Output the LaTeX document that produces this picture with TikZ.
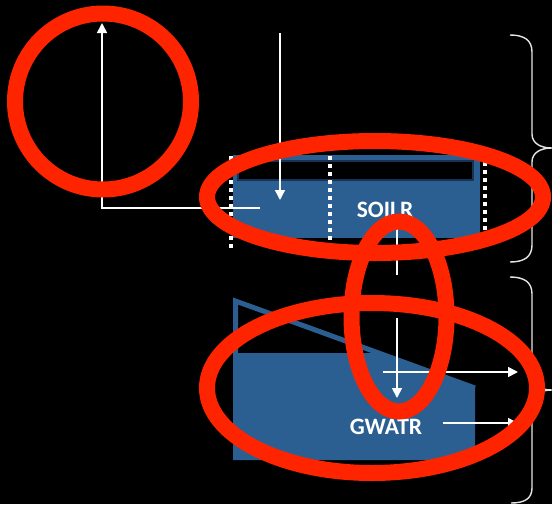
\documentclass[tikz,border=0pt]{standalone}
\usepackage{fontspec}
\setmainfont{Carlito}
\usetikzlibrary{arrows.meta}
\definecolor{layerblue}{RGB}{44,95,145}
\definecolor{layeredge}{RGB}{24,52,84}
\definecolor{markred}{RGB}{255,36,0}
\begin{document}
\begin{tikzpicture}[x=1pt,y=-1pt,
  flow/.style={draw=white,line width=1.6pt,-{Triangle[width=10pt,length=10pt]}},
  plainflow/.style={draw=white,line width=1.6pt},
  boundary/.style={draw=white,line width=4pt,dash pattern=on 4pt off 4pt},
  bracket/.style={draw=white!90!black,line width=1.4pt},
  storelabel/.style={text=white,font=\fontsize{23.5}{28}\selectfont\bfseries,inner sep=0pt},
  markring/.style={draw=markred,line width=16pt}
]
% canvas
\fill[black] (0,0) rectangle (552,504);
\useasboundingbox (0,0) rectangle (552,504);

% soil store
\fill[layerblue] (233,155) rectangle (480,238);
\filldraw[fill=black,draw=layeredge,line width=1.2pt] (238,161) rectangle (473,180);

% dotted column boundaries
\coordinate (bA1) at (231,156); \coordinate (bA2) at (231,250);
\coordinate (bB1) at (330,156); \coordinate (bB2) at (330,241);
\coordinate (bC1) at (485,162); \coordinate (bC2) at (485,234);
\draw[boundary] (bA1) -- (bA2);
\draw[boundary] (bB1) -- (bB2);
\draw[boundary] (bC1) -- (bC2);

% groundwater store
\fill[layerblue] (233,353) -- (377,353) -- (475,388) -- (475,460) -- (233,460) -- cycle;
\draw[layerblue,line width=5pt] (235.5,353) -- (235.5,301) -- (475,388);

% labels
\node[storelabel] (soil) at (385,210) {SOILR};
\node[storelabel] (gw) at (386,427) {GWATR};

% fluxes
\coordinate (evapStart) at (260,208);
\coordinate (evapCorner) at (102,208);
\coordinate (evapTop) at (102,23);
\draw[flow] (evapStart) -- (evapCorner) -- (evapTop);

\coordinate (rainTop) at (280,33);
\coordinate (rainEnd) at (280,200);
\draw[flow] (rainTop) -- (rainEnd);

\coordinate (percTop) at (397,225);
\coordinate (percEnd) at (397,275);
\draw[plainflow] (percTop) -- (percEnd);

\coordinate (rechTop) at (397,318);
\coordinate (rechEnd) at (397,398);
\draw[flow] (rechTop) -- (rechEnd);

\coordinate (outAStart) at (383,372);
\coordinate (outAEnd) at (518,372);
\draw[flow] (outAStart) -- (outAEnd);

\coordinate (outBStart) at (443,423);
\coordinate (outBEnd) at (518,423);
\draw[flow] (outBStart) -- (outBEnd);

% braces
\draw[bracket] (510,35) .. controls (524,35) and (532,40) .. (532,52) -- (532,134)
  .. controls (532,143) and (540,148) .. (552,148)
  .. controls (540,148) and (532,153) .. (532,162) -- (532,245)
  .. controls (532,257) and (524,262) .. (510,262);
\draw[bracket] (510,277) .. controls (524,277) and (532,282) .. (532,294) -- (532,376)
  .. controls (532,385) and (540,390) .. (552,390)
  .. controls (540,390) and (532,395) .. (532,404) -- (532,488)
  .. controls (532,499) and (524,503) .. (511,503);

% highlight rings
\draw[markring] (103,101.5) circle[radius=88pt];
\draw[markring] (375,197) ellipse[x radius=168pt,y radius=56pt];
\draw[markring] (399,316.5) ellipse[x radius=47.5pt,y radius=95pt];
\draw[markring] (372,388) ellipse[x radius=165pt,y radius=85pt];
\end{tikzpicture}
\end{document}
